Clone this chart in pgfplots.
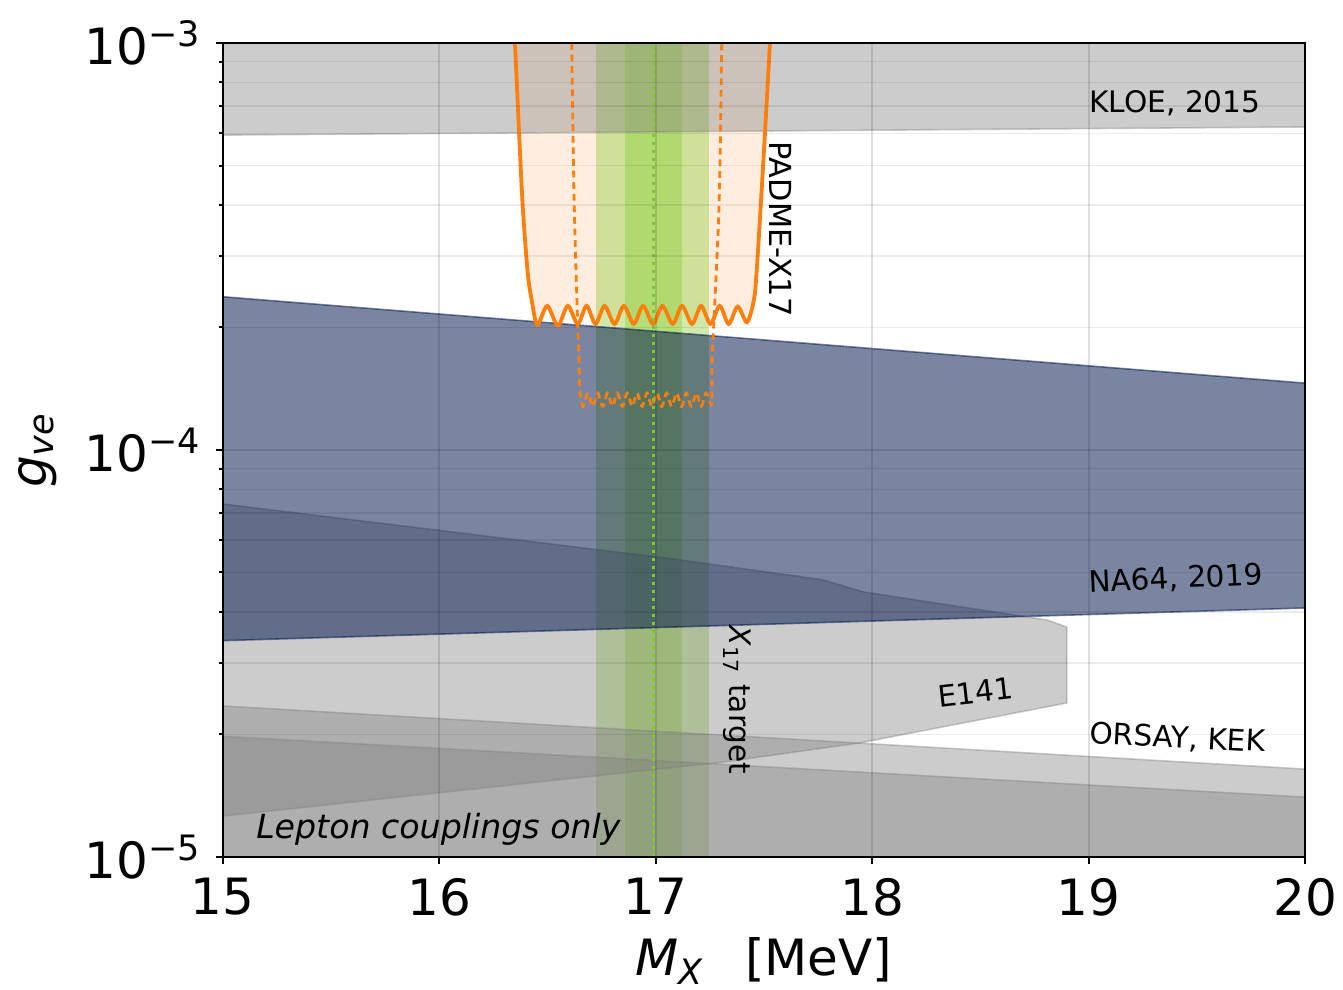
\documentclass[border=0pt]{standalone}
\usepackage{fontspec}
\setmainfont{DejaVu Sans}
\usepackage{pgfplots}
\pgfplotsset{compat=1.18}
\definecolor{padme}{RGB}{255,127,14}
\definecolor{grn}{RGB}{140,205,55}
\definecolor{grndot}{RGB}{120,205,40}
\definecolor{na}{RGB}{0,22,76}
\definecolor{gr}{RGB}{128,128,128}
\begin{document}
\begin{tikzpicture}
\begin{axis}[
 name=ax, scale only axis, width=270.6pt, height=203.5pt,
 xmin=15, xmax=20, ymin=1e-5, ymax=1e-3, ymode=log,
 xtick={15,16,17,18,19,20},
 ytick={1e-5,1e-4,1e-3},
 yticklabels={10\textsuperscript{−5},10\textsuperscript{−4},10\textsuperscript{−3}},
 minor ytick={2e-5,3e-5,4e-5,5e-5,6e-5,7e-5,8e-5,9e-5,2e-4,3e-4,4e-4,5e-4,6e-4,7e-4,8e-4,9e-4},
 xmajorgrids, ymajorgrids, yminorgrids,
 grid style={black, opacity=0.12, line width=0.5pt},
 minor grid style={black, opacity=0.08, line width=0.4pt},
 tick pos=left, tick align=outside,
 major tick length=1.75pt, minor tick length=1pt,
 every tick/.style={black, line width=0.5pt},
 axis line style={black, line width=0.5pt},
 axis on top,
 /pgf/number format/assume math mode=true,
 ticklabel style={font=\fontsize{12.5}{13}\selectfont},
 xlabel={\textit{M}\textsubscript{\textit{X}}\hspace{0.8em}[MeV]},
 ylabel={\textit{g}\textsubscript{\textit{ve}}},
 label style={font=\fontsize{12.5}{13}\selectfont},
 xlabel style={yshift=1.5pt},
]
% PADME fill
\addplot[fill=padme, draw=none, fill opacity=0.13, smooth, tension=0.5] coordinates {
(16.350,1e-3) (16.369,6.01e-4) (16.386,3.95e-4) (16.409,2.72e-4) (16.427,2.34e-4) (16.453,2.03e-4)
(16.499,2.26e-4) (16.548,2.02e-4) (16.594,2.26e-4) (16.640,2.04e-4) (16.681,2.26e-4) (16.722,2.04e-4)
(16.764,2.26e-4) (16.810,2.04e-4) (16.853,2.26e-4) (16.899,2.04e-4) (16.942,2.26e-4) (16.988,2.04e-4)
(17.031,2.26e-4) (17.079,2.04e-4) (17.122,2.26e-4) (17.168,2.04e-4) (17.210,2.26e-4) (17.253,2.04e-4)
(17.296,2.26e-4) (17.337,2.04e-4) (17.379,2.25e-4) (17.422,2.06e-4)
(17.454,2.34e-4) (17.466,2.72e-4) (17.485,3.95e-4) (17.505,6.01e-4) (17.528,1e-3)};
% X17 target bands
\addplot[fill=grn, draw=none, fill opacity=0.42] coordinates {(16.724,1e-5) (17.248,1e-5) (17.248,1e-3) (16.724,1e-3)} -- cycle;
\addplot[fill=grn, draw=none, fill opacity=0.42] coordinates {(16.858,1e-5) (17.120,1e-5) (17.120,1e-3) (16.858,1e-3)} -- cycle;
% KLOE
\addplot[fill=gr, draw=gr, opacity=0.4, line width=0.4pt] coordinates {(15,5.94e-4) (20,6.22e-4) (20,1e-3) (15,1e-3)} -- cycle;
% E141
\addplot[fill=gr, draw=gr, opacity=0.4, line width=0.4pt] coordinates {
(15,7.37e-5) (17.08,5.40e-5) (17.77,4.80e-5) (17.96,4.48e-5) (18.81,3.82e-5) (18.90,3.67e-5)
(18.90,2.39e-5) (17.94,1.905e-5) (17.31,1.71e-5) (15,1.26e-5)} -- cycle;
% ORSAY, KEK
\addplot[fill=gr, draw=gr, opacity=0.4, line width=0.4pt] coordinates {(15,2.35e-5) (20,1.644e-5) (20,1e-5) (15,1e-5)} -- cycle;
\addplot[fill=gr, draw=gr, opacity=0.4, line width=0.4pt] coordinates {(15,1.98e-5) (20,1.403e-5) (20,1e-5) (15,1e-5)} -- cycle;
% NA64
\addplot[fill=na, draw=na, opacity=0.52, line width=0.4pt] coordinates {(15,2.38e-4) (20,1.46e-4) (20,4.09e-5) (15,3.40e-5)} -- cycle;
% PADME lines
\addplot[padme, line width=0.95pt, smooth, tension=0.5] coordinates {
(16.350,1e-3) (16.369,6.01e-4) (16.386,3.95e-4) (16.409,2.72e-4) (16.427,2.34e-4) (16.453,2.03e-4)
(16.499,2.26e-4) (16.548,2.02e-4) (16.594,2.26e-4) (16.640,2.04e-4) (16.681,2.26e-4) (16.722,2.04e-4)
(16.764,2.26e-4) (16.810,2.04e-4) (16.853,2.26e-4) (16.899,2.04e-4) (16.942,2.26e-4) (16.988,2.04e-4)
(17.031,2.26e-4) (17.079,2.04e-4) (17.122,2.26e-4) (17.168,2.04e-4) (17.210,2.26e-4) (17.253,2.04e-4)
(17.296,2.26e-4) (17.337,2.04e-4) (17.379,2.25e-4) (17.422,2.06e-4)
(17.454,2.34e-4) (17.466,2.72e-4) (17.485,3.95e-4) (17.505,6.01e-4) (17.528,1e-3)};
\addplot[padme, line width=0.7pt, dash pattern=on 1.7pt off 1.2pt, smooth, tension=0.5] coordinates {
(16.612,1e-3) (16.623,4.18e-4) (16.638,2.17e-4) (16.646,1.69e-4) (16.650,1.40e-4) (16.664,1.28e-4)
(16.687,1.38e-4) (16.7095,1.28e-4) (16.732,1.38e-4) (16.755,1.28e-4) (16.778,1.38e-4) (16.8006,1.28e-4)
(16.823,1.38e-4) (16.8462,1.28e-4) (16.869,1.38e-4) (16.8917,1.28e-4) (16.914,1.38e-4) (16.9372,1.28e-4)
(16.960,1.38e-4) (16.9828,1.28e-4) (17.006,1.38e-4) (17.0283,1.28e-4) (17.051,1.38e-4) (17.0739,1.28e-4)
(17.097,1.38e-4) (17.1194,1.28e-4) (17.142,1.38e-4) (17.1649,1.28e-4) (17.188,1.38e-4) (17.2105,1.28e-4)
(17.233,1.38e-4) (17.256,1.29e-4)
(17.260,1.36e-4) (17.261,1.69e-4) (17.271,2.17e-4) (17.294,4.18e-4) (17.305,1e-3)};
% X17 central line
\addplot[grndot, line width=0.75pt, dash pattern=on 0.7pt off 1.3pt] coordinates {(16.99,1e-5) (16.99,1e-3)};
% labels
\node[anchor=base west, font=\fontsize{7.4}{8}\selectfont, inner sep=0pt] at (axis cs:19.0,6.74e-4) {KLOE, 2015};
\node[anchor=base west, rotate=2.7, font=\fontsize{7.4}{8}\selectfont, inner sep=0pt] at (axis cs:19.0,4.46e-5) {NA64, 2019};
\node[anchor=base west, rotate=-2.9, font=\fontsize{7.4}{8}\selectfont, inner sep=0pt] at (axis cs:19.0,1.905e-5) {ORSAY, KEK};
\node[rotate=6.5, font=\fontsize{7.4}{8}\selectfont, inner sep=0pt] at (axis cs:18.476,2.54e-5) {E141};
\node[rotate=-90, font=\fontsize{7.6}{8}\selectfont, inner sep=0pt] at (axis cs:17.579,3.49e-4) {PADME-X17};
\node[rotate=-90, font=\fontsize{7.4}{8}\selectfont, inner sep=0pt] at (axis cs:17.375,2.43e-5) {\textit{X}\textsubscript{17} target};
\node[anchor=base west, font=\itshape\fontsize{8.3}{9}\selectfont, inner sep=0pt] at (axis cs:15.151,1.113e-5) {Lepton couplings only};
\end{axis}
\pgfresetboundingbox
\path[use as bounding box] ([xshift=-55.7pt,yshift=-33.25pt]ax.south west) rectangle ([xshift=9.5pt,yshift=10.75pt]ax.north east);
\end{tikzpicture}
\end{document}
